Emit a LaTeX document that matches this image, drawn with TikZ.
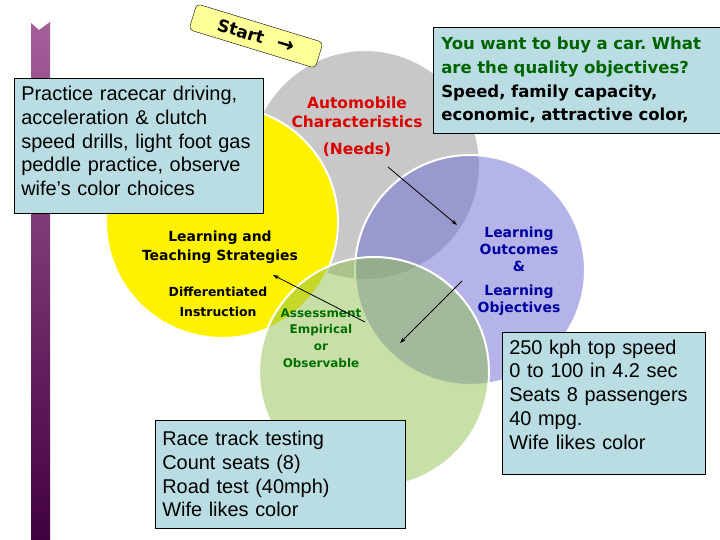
\documentclass[tikz,border=0pt]{standalone}
\usepackage{fontspec}
\setmainfont{Liberation Sans}
\newfontfamily\tahoma{DejaVu Sans}
\usetikzlibrary{arrows.meta}
\definecolor{boxblue}{RGB}{185,221,226}
\definecolor{ringgray}{RGB}{200,200,200}
\definecolor{ringblue}{RGB}{113,113,211}
\definecolor{ringgreen}{RGB}{145,193,81}
\definecolor{needsred}{RGB}{220,0,0}
\definecolor{assessgreen}{RGB}{0,110,0}
\definecolor{outcomeblue}{RGB}{0,0,160}
\definecolor{askgreen}{RGB}{0,100,0}
\definecolor{startyellow}{RGB}{255,255,153}
\definecolor{bartop}{RGB}{165,95,155}
\definecolor{barmid}{RGB}{125,10,110}
\definecolor{barbot}{RGB}{65,0,65}
\frenchspacing

\begin{document}
\begin{tikzpicture}[x=1bp,y=-1bp,>={Stealth[length=6bp,width=4bp]},
  ring/.style={draw=white,line width=2bp},
  note/.style={draw=black,fill=boxblue,line width=0.6bp,align=left,anchor=north west,
    inner xsep=7bp,font=\fontsize{20}{23.8}\selectfont}]
\useasboundingbox (0,0) rectangle (720,540);
% side bar
\shade[top color=bartop,middle color=barmid,bottom color=barbot]
  (31,23) -- (39,30) -- (50,22) -- (50,540) -- (31,540) -- cycle;
% the four rings
\draw[ring,fill=ringgray] (365,165) circle [radius=115];
\draw[ring,fill=yellow] (222,222) circle [radius=116];
\draw[ring,fill=ringblue,fill opacity=0.53] (470,270) circle [radius=115];
\draw[ring,fill=ringgreen,fill opacity=0.5] (374,372) circle [radius=115];
% ring labels
\node[align=center,text=needsred,font=\tahoma\bfseries\fontsize{15.5}{19}\selectfont] (needs) at (357,127)
  {Automobile\\Characteristics\\[8bp](Needs)};
\node[align=center,font=\tahoma\bfseries\fontsize{14}{19}\selectfont] (strategies) at (220,247)
  {Learning and\\Teaching Strategies};
\node[align=center,font=\tahoma\bfseries\fontsize{12.5}{20}\selectfont] (diff) at (218,302)
  {Differentiated\\Instruction};
\node[align=center,text=assessgreen,font=\tahoma\bfseries\fontsize{12}{16.7}\selectfont] (assess) at (321,338)
  {Assessment\\Empirical\\or\\Observable};
\node[align=center,text=outcomeblue,font=\tahoma\bfseries\fontsize{14}{17}\selectfont] (outcomes) at (519,271)
  {Learning\\Outcomes\\\&\\[7bp]Learning\\Objectives};
% start tag
\node[draw,fill=startyellow,rounded corners=4bp,rotate=-17,minimum width=132bp,minimum height=27bp,
  font=\tahoma\bfseries\fontsize{17}{20}\selectfont] (start) at (256,36)
  {Start\hspace{14bp}{\fontsize{21}{20}\selectfont→}};
% note boxes
\node[note,text width=235bp,minimum height=135bp] (practice) at (14,78)
  {Practice racecar driving,\\acceleration \& clutch\\speed drills, light foot gas\\peddle practice, observe\\wife’s color choices\\[-14bp]\mbox{}};
\node[note,inner xsep=8bp,text width=300bp,minimum height=106bp,font=\tahoma\bfseries\fontsize{16.6}{23.8}\selectfont] (ask) at (433,27)
  {\textcolor{askgreen}{You want to buy a car. What}\\\textcolor{askgreen}{are the quality objectives?}\\Speed, family capacity,\\economic, attractive color,};
\node[note,text width=236bp,minimum height=108bp] (testing) at (155,420)
  {Race track testing\\Count seats (8)\\Road test (40mph)\\Wife likes color};
\node[note,text width=189bp,minimum height=142bp] (specs) at (502,332)
  {250 kph top speed\\0 to 100 in 4.2 sec\\Seats 8 passengers\\40 mpg.\\Wife likes color\\[-6bp]\mbox{}};
% arrows
\coordinate (needsfrom) at (388,167);
\coordinate (needsto) at (457,225);
\coordinate (outfrom) at (462,281);
\coordinate (outto) at (400,343);
\coordinate (assessfrom) at (365,322);
\coordinate (assessto) at (273,275);
\draw[->,line width=0.8bp] (needsfrom) -- (needsto);
\draw[->,line width=0.8bp] (outfrom) -- (outto);
\draw[->,line width=0.8bp] (assessfrom) -- (assessto);
\end{tikzpicture}
\end{document}
